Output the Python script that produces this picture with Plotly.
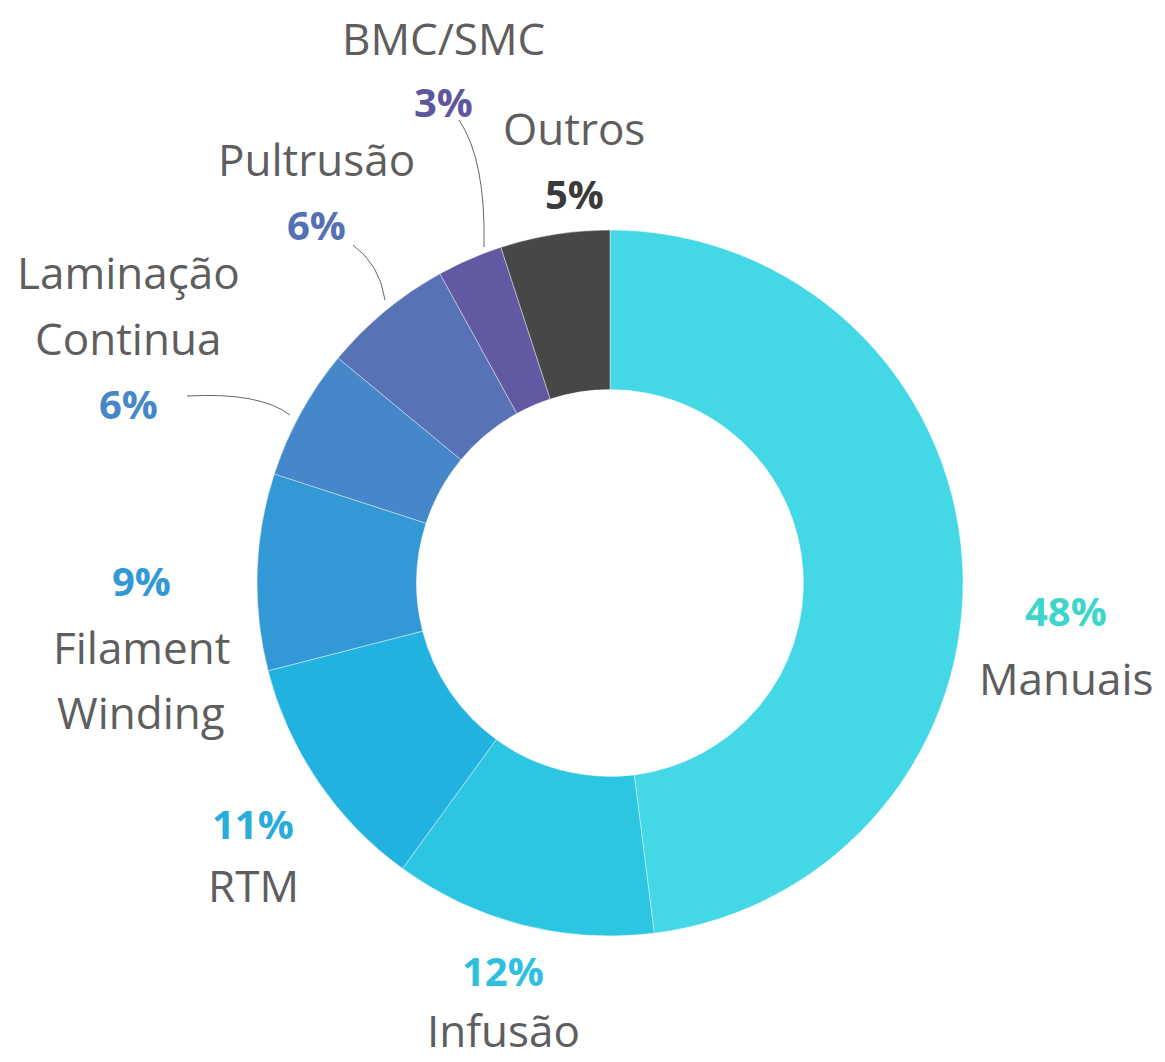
import plotly.graph_objects as go

categories = ["Manuais", "Infusão", "RTM", "Filament Winding", "Laminação Continua",
              "Pultrusão", "BMC/SMC", "Outros"]
values = [48, 12, 11, 9, 6, 6, 3, 5]
colors = ["#44D8E6", "#2DC6E2", "#22B2DF", "#3399D6", "#4587C9", "#5872B6", "#6159A2", "#474747"]
pct_colors = ["#3DD6C8", "#2EC0E0", "#27ACDD", "#3399D6", "#4587C9", "#5670B5", "#5F579E", "#3A3A3A"]

# the page body has an 8px default margin, so the figure is drawn 8px in from the window edge
OFF = 8
W, H = 1165 - OFF, 1062 - OFF
cx, cy, R = 610, 583, 353

def px(x):
    return (x - OFF) / W

def py(y):
    return 1 - (y - OFF) / H

fig = go.Figure(go.Pie(
    labels=categories, values=values, sort=False, direction="clockwise", rotation=0,
    hole=0.548, marker=dict(colors=colors, line=dict(color="rgba(255,255,255,0.5)", width=0.8)),
    textinfo="none", showlegend=False, hoverinfo="label+percent",
    domain=dict(x=[px(cx - R), px(cx + R)], y=[py(cy + R), py(cy - R)]),
))

label_pos = {
    "Manuais": (1066, [678], 610),
    "Infusão": (503, [1030], 970),
    "RTM": (253, [885], 823),
    "Filament Winding": (141, [647, 712], 580),
    "Laminação Continua": (128, [272, 338], 403),
    "Pultrusão": (316, [159], 225),
    "BMC/SMC": (443, [38], 101),
    "Outros": (574, [128], 193),
}
name_lines = {
    "Filament Winding": ["Filament", "Winding"],
    "Laminação Continua": ["Laminação", "Continua"],
}

anns = []
for i, cat in enumerate(categories):
    x, ys, ypct = label_pos[cat]
    lines = name_lines.get(cat, [cat])
    for ln, yy in zip(lines, ys):
        anns.append(dict(x=px(x), y=py(yy), xref="paper", yref="paper", text=ln,
                         showarrow=False, xanchor="center", yanchor="middle",
                         font=dict(family="Open Sans", size=44, color="#5E5E5E")))
    anns.append(dict(x=px(x), y=py(ypct), xref="paper", yref="paper",
                     text=f"<b>{values[i]}%</b>", showarrow=False,
                     xanchor="center", yanchor="middle",
                     font=dict(family="Open Sans", size=40, color=pct_colors[i])))

def curve(p0, c, p1):
    return (f"M {px(p0[0])},{py(p0[1])} Q {px(c[0])},{py(c[1])} {px(p1[0])},{py(p1[1])}")

shapes = [
    dict(type="path", xref="paper", yref="paper", path=curve((459, 120), (486, 160), (484, 247)),
         line=dict(color="#666666", width=1)),
    dict(type="path", xref="paper", yref="paper", path=curve((353, 245), (380, 265), (385, 300)),
         line=dict(color="#666666", width=1)),
    dict(type="path", xref="paper", yref="paper", path=curve((187, 396), (260, 392), (290, 415)),
         line=dict(color="#666666", width=1)),
]

fig.update_layout(width=W, height=H, margin=dict(l=0, r=0, t=0, b=0),
                  paper_bgcolor="white", plot_bgcolor="white",
                  annotations=anns, shapes=shapes)

fig.write_html("out.html")
